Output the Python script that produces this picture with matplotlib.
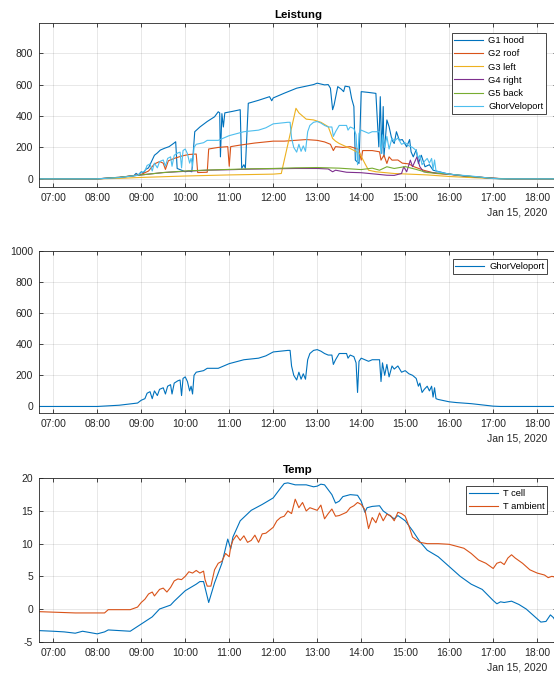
import matplotlib
matplotlib.use("Agg")
import matplotlib.pyplot as plt
import matplotlib.dates as mdates
import pandas as pd

plt.rcParams['font.family'] = ['Liberation Sans', 'DejaVu Sans']
plt.rcParams['axes.unicode_minus'] = False

# ---- Leistung (top panel) ----
g1_t = ["06:40", "08:00", "08:30", "08:50", "08:53", "08:56", "09:00", "09:03", "09:06", "09:10",
        "09:14", "09:18", "09:22", "09:26", "09:32", "09:38", "09:44", "09:47", "09:49", "09:55",
        "10:00", "10:05", "10:09", "10:13", "10:20", "10:30", "10:40", "10:45", "10:47", "10:48",
        "10:50", "10:52", "10:54", "11:05", "11:15", "11:17", "11:20", "11:22", "11:26", "11:40",
        "11:55", "11:58", "12:00", "12:15", "12:32", "12:45", "12:55", "13:00", "13:10", "13:15",
        "13:18", "13:21", "13:23", "13:28", "13:33", "13:36", "13:38", "13:44", "13:47", "13:50",
        "13:52", "13:57", "14:00", "14:10", "14:20", "14:24", "14:26", "14:28", "14:30", "14:31",
        "14:35", "14:38", "14:42", "14:45", "14:48", "14:52", "14:56", "15:02", "15:06", "15:08",
        "15:11", "15:15", "15:18", "15:22", "15:27", "15:33", "15:38", "15:56", "16:24", "16:47",
        "17:10", "17:30", "18:30"]
g1_v = [0, 0, 8, 20, 35, 25, 45, 35, 60, 70,
        110, 150, 165, 183, 195, 205, 225, 236, 66, 55,
        45, 50, 45, 300, 330, 365, 395, 427, 420, 140,
        415, 330, 420, 430, 440, 67, 90, 67, 481, 500,
        523, 497, 515, 545, 577, 590, 600, 609, 598, 600,
        577, 440, 470, 587, 570, 555, 590, 585, 510, 460,
        119, 98, 555, 550, 544, 204, 523, 162, 460, 140,
        375, 332, 246, 225, 300, 246, 250, 204, 250, 172,
        140, 185, 98, 150, 77, 90, 55, 34, 13, 8,
        1, 0, 0]

g2_t = ["06:40", "08:00", "08:30", "09:00", "09:10", "09:18", "09:25", "09:30", "09:33", "09:37",
        "09:45", "09:55", "10:05", "10:15", "10:17", "10:30", "10:32", "10:45", "10:58", "11:00",
        "11:02", "11:15", "11:35", "12:00", "12:15", "12:30", "12:45", "13:00", "13:10", "13:18",
        "13:22", "13:25", "13:35", "13:45", "13:57", "14:00", "14:02", "14:15", "14:25", "14:27",
        "14:31", "14:35", "14:38", "14:42", "14:50", "14:56", "15:05", "15:12", "15:25", "15:42",
        "16:00", "16:30", "17:00", "17:20", "18:30"]
g2_v = [0, 0, 8, 28, 50, 95, 110, 100, 60, 115,
        130, 145, 155, 158, 40, 42, 190, 200, 205, 80,
        205, 215, 228, 240, 240, 245, 250, 245, 235, 220,
        180, 205, 200, 205, 187, 119, 180, 180, 172, 119,
        151, 98, 140, 119, 120, 100, 95, 77, 55, 34,
        28, 15, 4, 0, 0]

g3_t = ["06:40", "08:00", "08:30", "09:00", "10:00", "11:00", "12:00", "12:11", "12:31", "12:35",
        "12:45", "12:55", "13:05", "13:15", "13:21", "13:25", "13:30", "13:45", "13:58", "14:05",
        "14:10", "14:20", "14:45", "15:30", "16:00", "16:30", "17:00", "17:20", "18:30"]
g3_v = [0, 0, 3, 9, 18, 25, 30, 34, 449, 420,
        380, 375, 360, 332, 257, 240, 225, 193, 162, 98,
        55, 45, 34, 25, 15, 8, 2, 0, 0]

g4_t = ["06:40", "08:00", "08:30", "09:00", "09:30", "10:00", "10:30", "11:00", "11:30", "12:00",
        "12:30", "13:00", "13:15", "13:21", "13:25", "13:40", "14:00", "14:20", "14:35", "14:45",
        "14:55", "14:58", "15:02", "15:07", "15:10", "15:16", "15:20", "15:25", "15:40", "16:00",
        "16:30", "17:00", "17:20", "18:30"]
g4_v = [0, 0, 10, 25, 40, 48, 55, 58, 62, 64,
        66, 66, 63, 45, 55, 42, 39, 30, 23, 22,
        34, 77, 45, 119, 77, 140, 77, 45, 38, 30,
        15, 3, 0, 0]

g5_t = ["06:40", "08:00", "08:30", "09:00", "09:30", "10:00", "10:30", "11:00", "11:30", "12:00",
        "12:30", "13:00", "13:30", "14:00", "14:15", "14:25", "14:35", "14:45", "15:00", "15:15",
        "15:30", "16:00", "16:30", "17:00", "17:20", "18:30"]
g5_v = [0, 0, 10, 25, 40, 50, 56, 60, 64, 66,
        70, 72, 68, 59, 68, 55, 77, 66, 78, 60,
        40, 30, 15, 3, 0, 0]

# ---- GhorVeloport (top and middle panel) ----
ghor_t = ["06:40", "08:00", "08:30", "08:55", "09:00", "09:05", "09:08", "09:12", "09:15", "09:18",
          "09:22", "09:25", "09:30", "09:33", "09:36", "09:40", "09:42", "09:45", "09:50", "09:53",
          "09:55", "09:57", "10:00", "10:03", "10:06", "10:08", "10:10", "10:12", "10:15", "10:25",
          "10:30", "10:45", "11:00", "11:20", "11:40", "11:50", "12:00", "12:10", "12:20", "12:23",
          "12:25", "12:28", "12:32", "12:35", "12:38", "12:41", "12:44", "12:47", "12:50", "12:55",
          "13:00", "13:05", "13:10", "13:15", "13:20", "13:22", "13:25", "13:30", "13:40", "13:42",
          "13:45", "13:50", "13:53", "13:55", "13:57", "14:00", "14:05", "14:10", "14:15", "14:25",
          "14:27", "14:29", "14:32", "14:35", "14:38", "14:42", "14:45", "14:50", "14:55", "15:00",
          "15:05", "15:10", "15:15", "15:18", "15:20", "15:23", "15:26", "15:30", "15:33", "15:36",
          "15:38", "15:40", "15:42", "15:45", "16:00", "16:10", "16:30", "17:00", "17:10", "18:30"]
ghor_v = [0, 0, 8, 22, 40, 50, 85, 95, 50, 100,
          70, 110, 120, 80, 130, 140, 80, 150, 165, 170,
          70, 180, 190, 160, 100, 130, 80, 200, 220, 230,
          245, 245, 275, 300, 310, 325, 350, 355, 360, 360,
          260, 200, 170, 220, 175, 210, 175, 300, 340, 360,
          365, 355, 340, 330, 330, 270, 300, 340, 340, 310,
          330, 320, 280, 90, 290, 310, 300, 290, 300, 300,
          160, 280, 200, 270, 190, 260, 240, 260, 220, 230,
          210, 200, 180, 130, 150, 90, 110, 130, 100, 130,
          60, 120, 50, 45, 30, 25, 18, 2, 0, 0]

# ---- Temp (bottom panel) ----
tcell_t = ["06:40", "07:00", "07:15", "07:30", "07:40", "07:50", "08:00", "08:10", "08:15", "08:30",
           "08:45", "09:00", "09:15", "09:25", "09:40", "09:45", "10:00", "10:15", "10:20", "10:25",
           "10:32", "10:40", "10:50", "10:58", "11:02", "11:05", "11:15", "11:30", "11:45", "12:00",
           "12:10", "12:15", "12:20", "12:30", "12:45", "12:55", "13:00", "13:05", "13:10", "13:20",
           "13:25", "13:30", "13:35", "13:45", "13:55", "14:00", "14:05", "14:08", "14:15", "14:25",
           "14:30", "14:40", "14:45", "14:50", "15:00", "15:10", "15:20", "15:30", "15:45", "16:00",
           "16:15", "16:30", "16:45", "17:00", "17:05", "17:10", "17:15", "17:25", "17:35", "17:45",
           "18:00", "18:05", "18:12", "18:18", "18:22", "18:27"]
tcell_v = [-3.3, -3.4, -3.5, -3.7, -3.4, -3.6, -3.8, -3.5, -3.2, -3.3,
           -3.4, -2.3, -1.2, 0.0, 0.6, 1.2, 2.8, 3.8, 4.2, 4.2,
           1.0, 4.0, 7.0, 10.7, 9.2, 11.0, 13.5, 15.1, 16.0, 17.0,
           18.5, 19.2, 19.3, 19.0, 19.0, 18.7, 18.8, 19.1, 19.0, 17.5,
           16.2, 16.5, 17.2, 17.5, 17.4, 16.5, 14.8, 15.5, 15.7, 15.8,
           15.0, 14.2, 13.8, 14.3, 13.5, 12.0, 10.3, 9.0, 8.0, 6.5,
           5.0, 3.8, 3.0, 1.3, 0.8, 1.1, 1.0, 1.2, 0.7, 0.0,
           -1.5, -2.0, -1.9, -0.9, -1.3, -2.2]

tamb_t = ["06:40", "07:30", "08:10", "08:15", "08:45", "08:55", "09:00", "09:05", "09:10", "09:15",
          "09:18", "09:25", "09:30", "09:35", "09:40", "09:45", "09:50", "09:55", "10:00", "10:05",
          "10:10", "10:15", "10:20", "10:25", "10:27", "10:30", "10:35", "10:40", "10:45", "10:50",
          "10:55", "11:00", "11:02", "11:05", "11:10", "11:15", "11:20", "11:25", "11:30", "11:35",
          "11:40", "11:45", "11:50", "12:00", "12:05", "12:10", "12:15", "12:20", "12:25", "12:30",
          "12:35", "12:40", "12:45", "12:50", "13:00", "13:05", "13:10", "13:15", "13:20", "13:25",
          "13:30", "13:40", "13:45", "13:50", "13:55", "14:00", "14:05", "14:10", "14:15", "14:20",
          "14:25", "14:30", "14:35", "14:40", "14:45", "14:50", "14:55", "15:00", "15:05", "15:10",
          "15:20", "15:30", "15:45", "16:00", "16:10", "16:20", "16:30", "16:40", "16:50", "17:00",
          "17:05", "17:10", "17:15", "17:20", "17:25", "17:30", "17:40", "17:50", "18:00", "18:10",
          "18:15", "18:20", "18:27"]
tamb_v = [-0.4, -0.6, -0.6, -0.1, -0.1, 0.3, 1.0, 1.5, 2.3, 2.6,
          2.0, 3.0, 3.2, 2.6, 3.3, 4.3, 4.6, 4.5, 5.0, 5.7,
          5.5, 5.9, 5.5, 5.8, 4.5, 3.5, 3.5, 6.0, 7.0, 7.3,
          8.5, 8.0, 9.5, 10.5, 11.3, 10.5, 11.2, 10.2, 10.5, 11.3,
          10.2, 11.5, 11.6, 12.5, 13.5, 14.0, 14.2, 15.0, 14.6, 16.8,
          15.5, 16.3, 15.0, 15.5, 15.1, 15.9, 13.8, 14.6, 15.3, 14.2,
          14.3, 14.8, 15.5, 15.8, 16.3, 16.0, 15.2, 12.3, 14.0, 13.2,
          14.7, 13.5, 14.5, 14.3, 13.5, 14.8, 14.6, 14.2, 12.7, 11.0,
          10.2, 10.0, 10.0, 9.9, 9.6, 9.3, 8.5, 7.5, 7.0, 6.2,
          7.0, 7.2, 6.8, 7.8, 8.3, 7.8, 7.0, 6.0, 5.5, 5.2,
          4.8, 5.0, 4.8]

x_range = ["06:41", "18:27"]

top_series = [("G1 hood", g1_t, g1_v), ("G2 roof", g2_t, g2_v), ("G3 left", g3_t, g3_v),
              ("G4 right", g4_t, g4_v), ("G5 back", g5_t, g5_v), ("GhorVeloport", ghor_t, ghor_v)]
colors = ["#0072BD", "#D95319", "#EDB120", "#7E2F8E", "#77AC30", "#4DBEEE"]
dark = "#262626"


def ts(times):
    return pd.to_datetime(["2020-01-15 " + t for t in times], format="%Y-%m-%d %H:%M")


W, H = 554, 675
fig = plt.figure(figsize=(W / 100, H / 100), dpi=100)


def make_axes(top_px, bottom_px):
    left_px, right_px = 39.3, 557
    return fig.add_axes([left_px / W, 1 - bottom_px / H, (right_px - left_px) / W, (bottom_px - top_px) / H])


def style(ax, ylim, yticks, bottom_px):
    ax.set_xlim(ts(x_range))
    ax.set_ylim(ylim)
    ax.set_yticks(yticks)
    ax.xaxis.set_major_locator(mdates.HourLocator())
    ax.xaxis.set_major_formatter(mdates.DateFormatter("%H:%M"))
    ax.grid(True, color=dark, alpha=0.15, lw=0.5)
    ax.set_axisbelow(True)
    ax.tick_params(direction="in", top=True, right=True, length=3.2, width=0.6,
                   colors=dark, labelsize=7.5, pad=4.5)
    for s in ax.spines.values():
        s.set_color(dark)
        s.set_linewidth(0.6)
    fig.text(547 / W, 1 - (bottom_px + 25.5) / H, "Jan 15, 2020", ha="right", va="center",
             fontsize=7.5, color=dark)


def add_legend(ax, right_px, top_px):
    ax.legend(loc="upper right", bbox_to_anchor=(right_px / W, 1 - top_px / H),
              bbox_transform=fig.transFigure, borderaxespad=0, fontsize=6.75,
              fancybox=False, framealpha=1, edgecolor=dark, handlelength=3.1,
              handletextpad=0.5, labelspacing=0.45, borderpad=0.3)
    ax.get_legend().get_frame().set_linewidth(0.6)


# top
ax1 = make_axes(23.3, 186.7)
for (name, t, v), c in zip(top_series, colors):
    ax1.plot(ts(t), v, color=c, lw=0.8, label=name)
style(ax1, (-50, 990), [0, 200, 400, 600, 800], 186.7)
ax1.set_title("Leistung", fontsize=8.25, fontweight="bold", color="black", pad=4)
add_legend(ax1, 546, 33.3)

# middle
ax2 = make_axes(250.7, 412.7)
ax2.plot(ts(ghor_t), ghor_v, color=colors[0], lw=0.8, label="GhorVeloport")
style(ax2, (-40, 1000), [0, 200, 400, 600, 800, 1000], 412.7)
add_legend(ax2, 547, 259.3)

# bottom
ax3 = make_axes(478.3, 641.7)
ax3.plot(ts(tcell_t), tcell_v, color=colors[0], lw=0.8, label="T cell")
ax3.plot(ts(tamb_t), tamb_v, color=colors[1], lw=0.8, label="T ambient")
style(ax3, (-5, 20), [-5, 0, 5, 10, 15, 20], 641.7)
ax3.set_title("Temp", fontsize=8.25, fontweight="bold", color="black", pad=4)
add_legend(ax3, 547, 486)

fig.savefig("out.png", dpi=100)
